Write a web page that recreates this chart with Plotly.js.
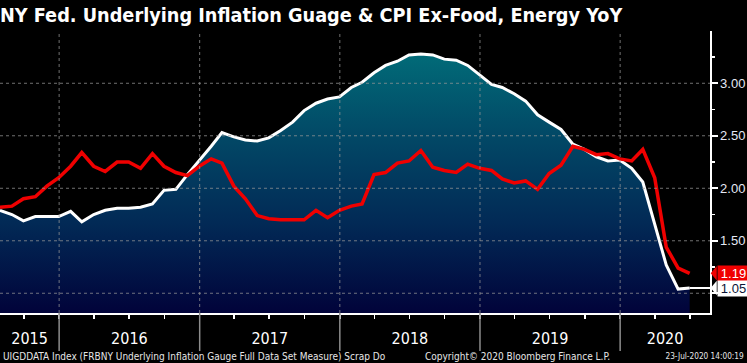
<!DOCTYPE html>
<html>
<head>
<meta charset="utf-8">
<script src="https://cdn.plot.ly/plotly-3.0.1.min.js"></script>
<style>
  html, body { margin: 0; padding: 0; background: #000; }
  #chart { width: 747px; height: 363px; }
</style>
</head>
<body>
<div id="chart"></div>
<script>
// ---- Data (monthly, plotted at month end) ----
const dates = [
  '2015-07-31','2015-08-31','2015-09-30','2015-10-31','2015-11-30','2015-12-31',
  '2016-01-31','2016-02-29','2016-03-31','2016-04-30','2016-05-31','2016-06-30',
  '2016-07-31','2016-08-31','2016-09-30','2016-10-31','2016-11-30','2016-12-31',
  '2017-01-31','2017-02-28','2017-03-31','2017-04-30','2017-05-31','2017-06-30',
  '2017-07-31','2017-08-31','2017-09-30','2017-10-31','2017-11-30','2017-12-31',
  '2018-01-31','2018-02-28','2018-03-31','2018-04-30','2018-05-31','2018-06-30',
  '2018-07-31','2018-08-31','2018-09-30','2018-10-31','2018-11-30','2018-12-31',
  '2019-01-31','2019-02-28','2019-03-31','2019-04-30','2019-05-31','2019-06-30',
  '2019-07-31','2019-08-31','2019-09-30','2019-10-31','2019-11-30','2019-12-31',
  '2020-01-31','2020-02-29','2020-03-31','2020-04-30','2020-05-31','2020-06-30'
];
// NY Fed Underlying Inflation Gauge (full data set), % YoY
const uigValues = [
  1.79,1.75,1.69,1.73,1.73,1.73,
  1.78,1.68,1.75,1.79,1.81,1.81,
  1.82,1.85,1.98,1.99,2.13,2.26,
  2.40,2.53,2.49,2.46,2.45,2.48,
  2.55,2.63,2.74,2.81,2.85,2.87,
  2.96,3.01,3.10,3.17,3.21,3.27,
  3.28,3.27,3.23,3.22,3.17,3.08,
  2.99,2.96,2.90,2.83,2.70,2.63,
  2.56,2.42,2.37,2.30,2.26,2.27,
  2.19,2.06,1.65,1.27,1.04,1.05
];
// CPI ex food & energy, % YoY
const cpiValues = [
  1.82,1.83,1.90,1.92,2.02,2.10,
  2.21,2.34,2.21,2.16,2.25,2.25,
  2.19,2.33,2.21,2.15,2.12,2.21,
  2.28,2.24,2.02,1.90,1.74,1.71,
  1.70,1.70,1.70,1.79,1.72,1.79,
  1.83,1.85,2.13,2.15,2.24,2.26,
  2.36,2.20,2.17,2.15,2.23,2.19,
  2.17,2.09,2.05,2.07,1.99,2.14,
  2.22,2.40,2.37,2.32,2.33,2.28,
  2.26,2.37,2.10,1.44,1.24,1.19
];
const yearLabels = ['2015','2016','2017','2018','2019','2020'];
const yearBoundaries = ['2016-01-01','2017-01-01','2018-01-01','2019-01-01','2020-01-01'];
const yTickValues = [1.0, 1.5, 2.0, 2.5, 3.0];

const titleText = 'NY Fed. Underlying Inflation Guage &amp; CPI Ex-Food, Energy YoY';
const footerLeft = 'UIGDDATA Index (FRBNY Underlying Inflation Gauge Full Data Set Measure) Scrap Do';
const footerMid = 'Copyright\u00a9 2020 Bloomberg Finance L.P.';
const footerRight = '23-Jul-2020 14:00:19';

// ---- Layout constants ----
const xRange = ['2015-07-31', '2020-08-22'];
const yRange = [0.812, 3.498];
const FONT = '"Liberation Sans Narrow", "DejaVu Sans Condensed", "Arial Narrow", "Liberation Sans", Arial, sans-serif';

// year label positions: center of the visible part of each year
const r0 = Date.parse(xRange[0]), r1 = Date.parse(xRange[1]);
const yearCenters = yearLabels.map(y => {
  const s = Math.max(Date.parse(y + '-01-01'), r0);
  const e = Math.min(Date.parse((+y + 1) + '-01-01'), r1);
  return new Date((s + e) / 2).toISOString().slice(0, 19).replace('T', ' ');
});

const lastDate = dates[dates.length - 1];
const lastUig = uigValues[uigValues.length - 1];
const lastCpi = cpiValues[cpiValues.length - 1];

// the lowest tick label sits behind the last-value box of the gauge
const yTickText = yTickValues.map(v => (Math.abs(v - lastUig) < 0.1 ? '' : v.toFixed(2)));

const traces = [
  {
    x: dates, y: uigValues, type: 'scatter', mode: 'lines',
    fill: 'tozeroy',
    fillgradient: {
      type: 'vertical',
      start: yRange[0],
      stop: Math.max(...uigValues),
      colorscale: [[0, '#01033a'], [0.35, '#022a56'], [0.7, '#024a67'], [1, '#016b78']]
    },
    line: { color: '#ffffff', width: 3 },
    hoverinfo: 'skip', showlegend: false
  },
  {
    x: dates, y: cpiValues, type: 'scatter', mode: 'lines',
    line: { color: '#f00000', width: 3.5 },
    hoverinfo: 'skip', showlegend: false
  }
];

const shapes = [];
yTickValues.forEach(v => shapes.push({
  type: 'line', xref: 'paper', yref: 'y', x0: 0, x1: 1, y0: v, y1: v,
  line: { color: 'rgba(150,150,150,0.75)', width: 1, dash: 'dot' }, layer: 'above'
}));
yearBoundaries.forEach(d => {
  shapes.push({
    type: 'line', xref: 'x', yref: 'paper', x0: d, x1: d, y0: 0, y1: 1,
    line: { color: 'rgba(150,150,150,0.75)', width: 1, dash: 'dot' }, layer: 'above'
  });
  shapes.push({
    type: 'line', xref: 'x', yref: 'paper', x0: d, x1: d, y0: -0.135, y1: 0,
    line: { color: '#8c8c8c', width: 1.5 }, layer: 'above'
  });
});
// last-value extension of the white line to the axis
shapes.push({
  type: 'line', xref: 'x', yref: 'y', x0: lastDate, x1: xRange[1], y0: lastUig, y1: lastUig,
  line: { color: '#ffffff', width: 2 }, layer: 'above'
});
// label pointers
function pointer(v, color) {
  const dy = 7.2 / (282 / (yRange[1] - yRange[0]));
  return {
    type: 'path', xref: 'paper', yref: 'y',
    path: `M 1.001,${v} L 1.0095,${v + dy} L 1.0095,${v - dy} Z`,
    fillcolor: color, line: { width: 0 }, layer: 'above'
  };
}
shapes.push(pointer(lastCpi, '#f00000'));
shapes.push(pointer(lastUig, '#ffffff'));

const footY = -(356 - 313) / 282;
const annotations = [
  {
    xref: 'paper', yref: 'y', x: 1.0095, y: lastCpi, xanchor: 'left', yanchor: 'middle',
    text: lastCpi.toFixed(2), showarrow: false, bgcolor: '#f00000',
    font: { family: '"Liberation Sans", Arial, sans-serif', size: 13, color: '#ffffff' },
    borderpad: 0, width: 31, height: 15, align: 'center'
  },
  {
    xref: 'paper', yref: 'y', x: 1.0095, y: lastUig, xanchor: 'left', yanchor: 'middle',
    text: lastUig.toFixed(2), showarrow: false, bgcolor: '#ffffff',
    font: { family: '"Liberation Sans", Arial, sans-serif', size: 13, color: '#0a1436' },
    borderpad: 0, width: 31, height: 15, align: 'center'
  },
  {
    xref: 'paper', yref: 'paper', x: 0, xshift: 1, y: footY, xanchor: 'left', yanchor: 'middle',
    text: footerLeft, showarrow: false,
    font: { family: FONT, size: 10, color: '#e6e6e6' }
  },
  {
    xref: 'paper', yref: 'paper', x: 423 / 710, y: footY, xanchor: 'left', yanchor: 'middle',
    text: footerMid, showarrow: false,
    font: { family: FONT, size: 10, color: '#e6e6e6' }
  },
  {
    xref: 'paper', yref: 'paper', x: 745 / 710, y: footY, xanchor: 'right', yanchor: 'middle',
    text: footerRight, showarrow: false, align: 'right', width: 86, borderpad: 0,
    font: { family: FONT, size: 8.2, color: '#e6e6e6' }
  }
];

const layout = {
  width: 747, height: 363,
  margin: { l: 0, r: 37, t: 31, b: 50, pad: 0 },
  paper_bgcolor: '#000000', plot_bgcolor: '#000000',
  showlegend: false,
  title: {
    text: titleText, x: 0, xref: 'paper', xanchor: 'left',
    y: 1 - 15 / 363, yref: 'container', yanchor: 'middle',
    font: { family: FONT, size: 19.7, color: '#ffffff', weight: 'bold' }
  },
  xaxis: {
    type: 'date', range: xRange, fixedrange: true,
    showgrid: false, zeroline: false,
    showline: true, linecolor: '#ffffff', linewidth: 1.5,
    tickmode: 'array', tickvals: yearCenters, ticktext: yearLabels,
    ticks: 'outside', ticklen: 10, tickcolor: 'rgba(0,0,0,0)',
    tickfont: { family: FONT, size: 16, color: '#ffffff' },
    minor: { tickmode: 'linear', dtick: 'M3', tick0: '2015-01-01', ticks: 'outside', ticklen: 4, tickwidth: 1.5, tickcolor: '#ffffff', showgrid: false }
  },
  yaxis: {
    side: 'right', range: yRange, fixedrange: true,
    showgrid: false, zeroline: false,
    showline: true, linecolor: '#ffffff', linewidth: 1.5,
    tickmode: 'array', tickvals: yTickValues, ticktext: yTickText,
    ticks: 'outside', ticklen: 6, tickwidth: 2, tickcolor: '#ffffff',
    tickfont: { family: '"Liberation Sans", Arial, sans-serif', size: 13, color: '#e4e8f4' },
    minor: { tickmode: 'linear', tick0: 0, dtick: 0.25, ticks: 'outside', ticklen: 3, tickwidth: 1.5, tickcolor: '#ffffff', showgrid: false }
  },
  shapes: shapes,
  annotations: annotations
};

Plotly.newPlot('chart', traces, layout, { staticPlot: true, displayModeBar: false });
</script>
</body>
</html>
